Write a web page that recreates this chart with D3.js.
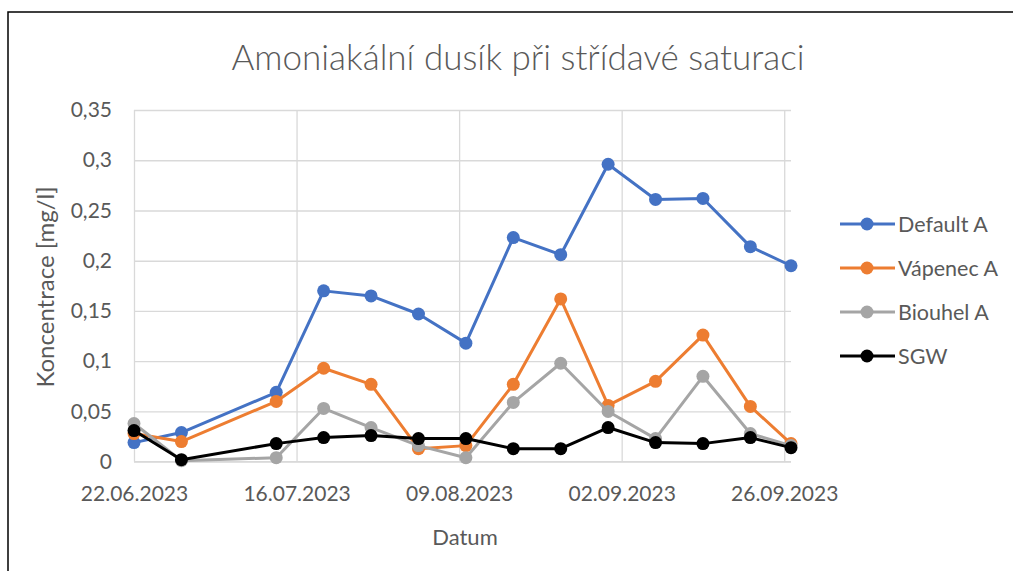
<!DOCTYPE html>
<html>
<head>
<meta charset="utf-8">
<script src="https://cdn.jsdelivr.net/npm/d3@7"></script>
<style>
  html, body { margin: 0; padding: 0; background: #fff; }
  svg { display: block; }
</style>
</head>
<body>
<svg id="chart" width="1013" height="571"></svg>
<script>
const dates = ["2023-06-22","2023-06-29","2023-07-13","2023-07-20","2023-07-27","2023-08-03","2023-08-10","2023-08-17","2023-08-24","2023-08-31","2023-09-07","2023-09-14","2023-09-21","2023-09-27"];
const defaultA = [0.019,0.029,0.069,0.170,0.165,0.147,0.118,0.223,0.206,0.296,0.261,0.262,0.214,0.195];
const vapenecA = [0.028,0.020,0.060,0.093,0.077,0.013,0.016,0.077,0.162,0.056,0.080,0.126,0.055,0.018];
const biouhelA = [0.038,0.001,0.004,0.053,0.034,0.016,0.004,0.059,0.098,0.050,0.023,0.085,0.028,0.016];
const sgw      = [0.031,0.002,0.018,0.024,0.026,0.023,0.023,0.013,0.013,0.034,0.019,0.018,0.024,0.014];
const seriesNames = ["Default A","Vápenec A","Biouhel A","SGW"];
const seriesColors = ["#4472C4","#ED7D31","#A5A5A5","#000000"];
const xTickLabels = ["22.06.2023","16.07.2023","09.08.2023","02.09.2023","26.09.2023"];
const yTicks = [0,0.05,0.1,0.15,0.2,0.25,0.3,0.35];
const title = "Amoniakální dusík při střídavé saturaci";
const xTitle = "Datum";
const yTitle = "Koncentrace [mg/l]";

const parseISO = d3.utcParse("%Y-%m-%d");
const parseLbl = d3.utcParse("%d.%m.%Y");
const fmtLbl = d3.utcFormat("%d.%m.%Y");
const xDates = dates.map(parseISO);
const allSeries = [defaultA, vapenecA, biouhelA, sgw];

const svg = d3.select("#chart");
const font = "Lato, 'Open Sans', sans-serif";
const textColor = "#595959";

// outer frame
svg.append("rect").attr("x", 8).attr("y", 12).attr("width", 1020).attr("height", 580)
  .attr("fill", "none").attr("stroke", "#000").attr("stroke-width", 1.5);

const pL = 134, pR = 791, pT = 110, pB = 461.7;
const x = d3.scaleUtc().domain([xDates[0], xDates[xDates.length-1]]).range([pL, pR]);
const y = d3.scaleLinear().domain([0, 0.35]).range([pB, pT]);

const fmtY = v => v === 0 ? "0" : String(+v.toFixed(2)).replace(".", ",");

// horizontal grid + y labels
const yAxis = d3.axisLeft(y).tickValues(yTicks).tickFormat(fmtY).tickSize(-(pR-pL)).tickPadding(22);
const gy = svg.append("g").attr("transform", `translate(${pL},0)`).call(yAxis);
gy.select(".domain").remove();
gy.selectAll(".tick line").attr("stroke", "#D9D9D9").attr("stroke-width", 1.3);
gy.selectAll(".tick text").attr("fill", textColor).attr("font-family", font).attr("font-size", 21);

// vertical grid + x labels
const xTickDates = xTickLabels.map(parseLbl);
const xAxis = d3.axisBottom(x).tickValues(xTickDates).tickFormat(fmtLbl).tickSize(-(pB-pT)).tickPadding(24);
const gx = svg.append("g").attr("transform", `translate(0,${pB})`).call(xAxis);
gx.select(".domain").attr("stroke", "#D9D9D9").attr("stroke-width", 1.3).attr("d", `M${pL},0H${pR}`);
gx.selectAll(".tick line").attr("stroke", "#D9D9D9").attr("stroke-width", 1.3);
gx.selectAll(".tick text").attr("fill", textColor).attr("font-family", font).attr("font-size", 21);

// titles
svg.append("text").attr("x", 518).attr("y", 70).attr("text-anchor", "middle")
  .attr("fill", textColor).attr("font-family", font).attr("font-weight", 300).attr("font-size", 35).text(title);
svg.append("text").attr("x", 465).attr("y", 545).attr("text-anchor", "middle")
  .attr("fill", textColor).attr("font-family", font).attr("font-size", 22).text(xTitle);
svg.append("text").attr("transform", "translate(54,287) rotate(-90)").attr("text-anchor", "middle")
  .attr("fill", textColor).attr("font-family", font).attr("font-size", 24).text(yTitle);

// series
const line = d3.line().x((d,i) => x(xDates[i])).y(d => y(d));
allSeries.forEach((vals, s) => {
  const g = svg.append("g");
  g.append("path").datum(vals).attr("d", line).attr("fill", "none")
    .attr("stroke", seriesColors[s]).attr("stroke-width", 3).attr("stroke-linejoin", "round");
  g.selectAll("circle").data(vals).join("circle")
    .attr("cx", (d,i) => x(xDates[i])).attr("cy", d => y(d)).attr("r", 6.5)
    .attr("fill", seriesColors[s]);
});

// legend
const lg = svg.append("g");
seriesNames.forEach((name, s) => {
  const ly = 224 + s * 44;
  lg.append("line").attr("x1", 840).attr("x2", 895).attr("y1", ly).attr("y2", ly)
    .attr("stroke", seriesColors[s]).attr("stroke-width", 3);
  lg.append("circle").attr("cx", 867).attr("cy", ly).attr("r", 6.5).attr("fill", seriesColors[s]);
  lg.append("text").attr("x", 898).attr("y", ly).attr("dy", "0.35em")
    .attr("fill", textColor).attr("font-family", font).attr("font-size", 21.5).text(name);
});
</script>
</body>
</html>
